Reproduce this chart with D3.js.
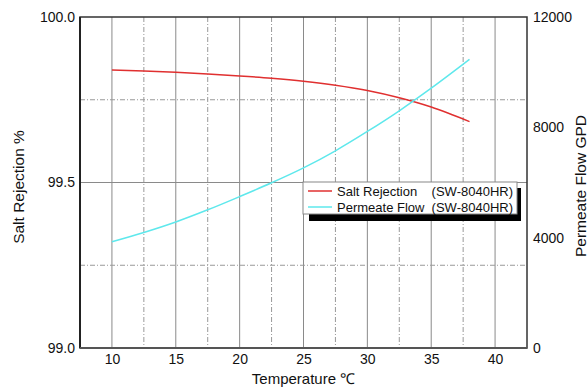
<!DOCTYPE html>
<html><head><meta charset="utf-8">
<script src="https://cdn.jsdelivr.net/npm/d3@7"></script>
<style>body{margin:0;background:#fff}svg{display:block;font-family:"Liberation Sans",Arial,sans-serif}</style>
</head><body>
<svg id="c" width="588" height="387"></svg>
<script>
const temps = [10, 12.5, 15, 17.5, 20, 22.5, 25, 27.5, 30, 32.5, 35, 38];
const saltRejection = [99.840, 99.837, 99.833, 99.828, 99.822, 99.815, 99.806, 99.794, 99.778, 99.756, 99.728, 99.684];
const permeateFlow = [3854, 4190, 4570, 5010, 5490, 5990, 6530, 7150, 7850, 8600, 9420, 10466];
const xMajor = [10, 15, 20, 25, 30, 35, 40];
const xMinor = [12.5, 17.5, 22.5, 27.5, 32.5, 37.5];
const yLeftTicks = [99.0, 99.5, 100.0];
const yLeftMinor = [99.25, 99.75];
const yRightTicks = [0, 4000, 8000, 12000];
const legendLabels = ["Salt Rejection", "Permeate Flow"];
const legendModel = "(SW-8040HR)";

const L = 80, R = 527, T = 17, B = 348;
const svg = d3.select("#c");
const x = d3.scaleLinear().domain([7.5, 42.5]).range([L, R]);
const yL = d3.scaleLinear().domain([99.0, 100.0]).range([B, T]);
const yR = d3.scaleLinear().domain([0, 12000]).range([B, T]);

// grid
const g = svg.append("g");
g.selectAll(".vmaj").data(xMajor).join("line")
  .attr("x1", d => x(d)).attr("x2", d => x(d)).attr("y1", T).attr("y2", B)
  .attr("stroke", "#8a8a8a").attr("stroke-width", 1);
g.selectAll(".vmin").data(xMinor).join("line")
  .attr("x1", d => x(d)).attr("x2", d => x(d)).attr("y1", T).attr("y2", B)
  .attr("stroke", "#999").attr("stroke-width", 1).attr("stroke-dasharray", "5,2,1,2");
g.selectAll(".hmaj").data([99.5]).join("line")
  .attr("x1", L).attr("x2", R).attr("y1", d => yL(d)).attr("y2", d => yL(d))
  .attr("stroke", "#8a8a8a").attr("stroke-width", 1);
g.selectAll(".hmin").data(yLeftMinor).join("line")
  .attr("x1", L).attr("x2", R).attr("y1", d => yL(d)).attr("y2", d => yL(d))
  .attr("stroke", "#999").attr("stroke-width", 1).attr("stroke-dasharray", "5,2,1,2");

// frame
svg.append("rect").attr("x", L).attr("y", T).attr("width", R - L).attr("height", B - T)
  .attr("fill", "none").attr("stroke", "#333").attr("stroke-width", 1.5);
svg.append("line").attr("x1", L).attr("x2", L).attr("y1", T).attr("y2", B).attr("stroke", "#222").attr("stroke-width", 2);
svg.append("line").attr("x1", L).attr("x2", R).attr("y1", B).attr("y2", B).attr("stroke", "#555").attr("stroke-width", 2);

// axes
const axB = svg.append("g").attr("transform", `translate(0,${B})`)
  .call(d3.axisBottom(x).tickValues(xMajor).tickSize(0).tickPadding(6));
const axL = svg.append("g").attr("transform", `translate(${L},0)`)
  .call(d3.axisLeft(yL).tickValues(yLeftTicks).tickFormat(d3.format(".1f")).tickSize(0).tickPadding(5));
const axR = svg.append("g").attr("transform", `translate(${R},0)`)
  .call(d3.axisRight(yR).tickValues(yRightTicks).tickFormat(d3.format("d")).tickSize(0).tickPadding(6));
[axB, axL, axR].forEach(a => {
  a.select(".domain").remove();
  a.selectAll("text").attr("font-size", 14).attr("fill", "#111").attr("font-family", "Liberation Sans, Arial, sans-serif");
});

// lines
const curve = d3.curveMonotoneX;
const saltLine = d3.line().x((d, i) => x(temps[i])).y(d => yL(d)).curve(curve);
const flowLine = d3.line().x((d, i) => x(temps[i])).y(d => yR(d)).curve(curve);
svg.append("path").attr("d", saltLine(saltRejection)).attr("fill", "none").attr("stroke", "#e03030").attr("stroke-width", 1.5);
svg.append("path").attr("d", flowLine(permeateFlow)).attr("fill", "none").attr("stroke", "#5ee8ec").attr("stroke-width", 1.5);

// titles
svg.append("text").attr("x", x(25)).attr("y", 384).attr("text-anchor", "middle")
  .attr("font-size", 15).attr("fill", "#111").text("Temperature ℃");
svg.append("text").attr("transform", `translate(24,187) rotate(-90)`).attr("text-anchor", "middle")
  .attr("font-size", 15.5).attr("fill", "#111").text("Salt Rejection %");
svg.append("text").attr("transform", `translate(586,186) rotate(-90)`).attr("text-anchor", "middle")
  .attr("font-size", 15.5).attr("fill", "#111").text("Permeate Flow GPD");

// legend
const lx = 303, ly = 182, lw = 214, lh = 32;
svg.append("rect").attr("x", lx + 6).attr("y", ly + 6).attr("width", lw - 2).attr("height", lh + 1).attr("fill", "#000");
svg.append("rect").attr("x", lx).attr("y", ly).attr("width", lw).attr("height", lh)
  .attr("fill", "#fff").attr("stroke", "#888").attr("stroke-width", 1);
const colors = ["#e03030", "#5ee8ec"];
legendLabels.forEach((lab, i) => {
  const cy = ly + 9 + i * 16;
  svg.append("line").attr("x1", lx + 5).attr("x2", lx + 29).attr("y1", cy).attr("y2", cy)
    .attr("stroke", colors[i]).attr("stroke-width", 1.5);
  svg.append("text").attr("x", lx + 34).attr("y", cy + 5).attr("font-size", 13).attr("fill", "#111").text(lab);
  svg.append("text").attr("x", lx + lw - 4).attr("y", cy + 5).attr("text-anchor", "end").attr("font-size", 13).attr("fill", "#111").text(legendModel);
});
</script>
</body></html>
